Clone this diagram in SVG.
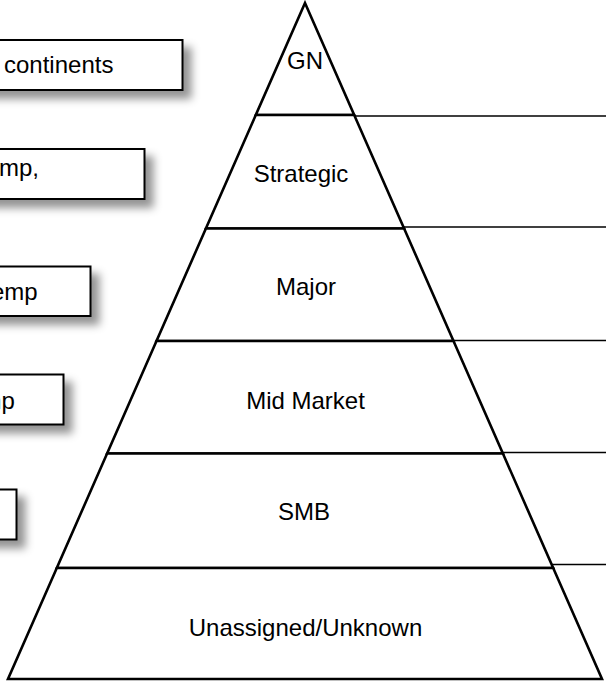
<svg xmlns="http://www.w3.org/2000/svg" width="606" height="684" viewBox="0 0 606 684">
  <style>
    .box { fill: #ffffff; stroke: #000000; stroke-width: 2; }
    .tier { fill: #ffffff; stroke: #000000; stroke-width: 2.6; stroke-linejoin: miter; }
    .lead { stroke: #000000; stroke-width: 1.5; fill: none; }
    text { font-family: "Liberation Sans", Arial, Helvetica, sans-serif; font-size: 24px; fill: #000000; }
    .mid { text-anchor: middle; }
  </style>
  <defs>
    <filter id="shadow" x="-20%" y="-50%" width="140%" height="200%">
      <feGaussianBlur in="SourceAlpha" stdDeviation="4.5"/>
      <feOffset dx="8" dy="8" result="blur"/>
      <feFlood flood-color="#000000" flood-opacity="0.42"/>
      <feComposite in2="blur" operator="in"/>
      <feMerge>
        <feMergeNode/>
        <feMergeNode in="SourceGraphic"/>
      </feMerge>
    </filter>
  </defs>

  <!-- note boxes on the left, running off the page edge -->
  <g id="note-1">
    <rect class="box" x="-200" y="40" width="382.5" height="50" filter="url(#shadow)"/>
    <text x="4" y="73">continents</text>
  </g>
  <g id="note-2">
    <rect class="box" x="-200" y="149" width="344.5" height="50" filter="url(#shadow)"/>
    <text x="-1" y="176">mp,</text>
  </g>
  <g id="note-3">
    <rect class="box" x="-200" y="266.5" width="290.5" height="49.5" filter="url(#shadow)"/>
    <text x="-9" y="300">emp</text>
  </g>
  <g id="note-4">
    <rect class="box" x="-200" y="374.5" width="263.5" height="50" filter="url(#shadow)"/>
    <text x="-18.5" y="409">mp</text>
  </g>
  <g id="note-5">
    <rect class="box" x="-200" y="489.5" width="216.5" height="50" filter="url(#shadow)"/>
  </g>

  <!-- leader lines running from the tiers to the right edge -->
  <g id="connectors">
    <line class="lead" x1="340" y1="116" x2="606" y2="116"/>
    <line class="lead" x1="298" y1="227" x2="606" y2="227"/>
    <line class="lead" x1="342" y1="340.5" x2="606" y2="340.5"/>
    <line class="lead" x1="350" y1="452.5" x2="606" y2="452.5"/>
    <line class="lead" x1="368" y1="564.5" x2="606" y2="564.5"/>
  </g>

  <!-- pyramid tiers, top to bottom -->
  <g id="tier-gn">
    <polygon class="tier" points="305,3 354.2,115 255.8,115"/>
    <text class="mid" x="305" y="69">GN</text>
  </g>
  <g id="tier-strategic">
    <polygon class="tier" points="255.8,115 354.2,115 404.1,228.5 205.9,228.5"/>
    <text class="mid" x="301" y="182">Strategic</text>
  </g>
  <g id="tier-major">
    <polygon class="tier" points="205.9,228.5 404.1,228.5 453.5,341 156.5,341"/>
    <text class="mid" x="306" y="295">Major</text>
  </g>
  <g id="tier-mid-market">
    <polygon class="tier" points="156.5,341 453.5,341 502.9,453.5 107.1,453.5"/>
    <text class="mid" x="305.5" y="409">Mid Market</text>
  </g>
  <g id="tier-smb">
    <polygon class="tier" points="107.1,453.5 502.9,453.5 553.2,568 56.8,568"/>
    <text class="mid" x="304" y="520">SMB</text>
  </g>
  <g id="tier-unassigned">
    <polygon class="tier" points="56.8,568 553.2,568 602,679 8,679"/>
    <text class="mid" x="305.5" y="636">Unassigned/Unknown</text>
  </g>
</svg>
